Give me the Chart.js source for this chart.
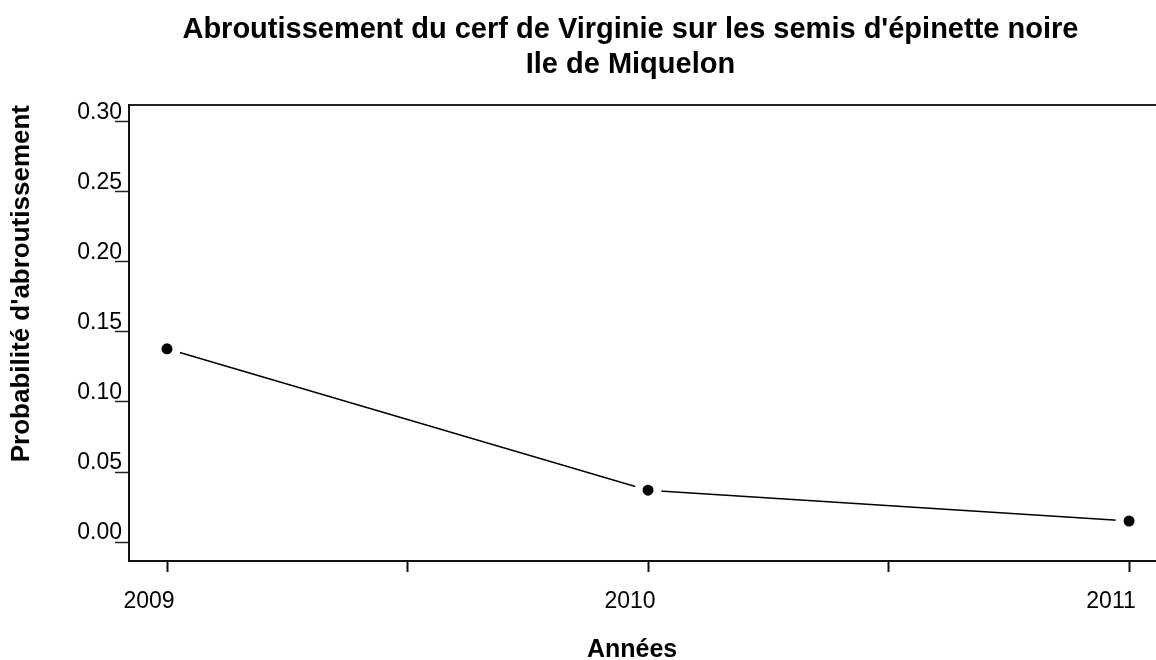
<!DOCTYPE html>
<html>
<head>
<meta charset="utf-8">
<script src="https://cdn.jsdelivr.net/npm/chart.js@4.4.1/dist/chart.umd.min.js"></script>
<style>
  html, body { margin:0; padding:0; background:#fff; }
  #wrap { width:1156px; height:660px; }
</style>
</head>
<body>
<div id="wrap"><canvas id="abrChart" width="1156" height="660"></canvas></div>
<script>

/* DONNEES */

const annees = [2009, 2010, 2011];
const probabilite = [0.138, 0.037, 0.015];

const xTicks = [2009, 2009.5, 2010, 2010.5, 2011];
const yTicks = [0, 0.05, 0.10, 0.15, 0.20, 0.25, 0.30];

const font = "'Liberation Sans', Arial, sans-serif";

/* GRAPHIQUE */

const abrChart = new Chart(
document.getElementById('abrChart'),{

    type:'line',

    data:{
        datasets:[{
            label:'Probabilité',
            data:annees.map((a,i)=>({x:a, y:probabilite[i]})),
            borderColor:'#000',
            borderWidth:1.5,
            pointRadius:9.5,
            pointBackgroundColor:'#000',
            pointBorderColor:'#fff',
            pointBorderWidth:8,
            tension:0
        }]
    },

    options:{
        responsive:false,
        animation:false,
        layout:{ padding:0, autoPadding:false },
        plugins:{
            legend:{ display:false },
            tooltip:{ enabled:false },
            title:{
                display:true,
                fullSize:false,
                // espaces finaux : decale le centrage vers la gauche
                text:["Abroutissement du cerf de Virginie sur les semis d'épinette noire   ","Ile de Miquelon   "],
                color:'#000',
                font:{ family:font, size:29, weight:'bold', lineHeight:'35px' },
                padding:{ top:12.5, bottom:22.5 }
            }
        },
        scales:{
            x:{
                type:'linear',
                position:'bottom',
                min:2008.921,
                max:2011.056,
                afterBuildTicks:(s)=>{ s.ticks = xTicks.map(v=>({value:v})); },
                afterFit:(s)=>{ s.height = 99; },
                border:{ display:true, color:'#111', width:2 },
                grid:{ drawOnChartArea:false, drawTicks:true, tickLength:11, tickWidth:2, tickColor:'#111' },
                ticks:{
                    color:'#000',
                    padding:0,
                    labelOffset:-18,
                    maxRotation:0,
                    font:{ family:font, size:23, lineHeight:'60px' },
                    callback:(v)=> Number.isInteger(v) ? String(v) : ''
                },
                title:{
                    display:true,
                    text:'Années   ',
                    color:'#000',
                    font:{ family:font, size:25, weight:'bold', lineHeight:'20px' },
                    padding:0
                }
            },
            x2:{
                type:'linear',
                position:'top',
                min:0, max:1,
                afterFit:(s)=>{ s.height = 0; },
                border:{ display:true, color:'#222', width:2 },
                grid:{ drawOnChartArea:false, drawTicks:false },
                ticks:{ display:false }
            },
            y:{
                type:'linear',
                position:'left',
                min:-0.01357,
                max:0.31214,
                afterBuildTicks:(s)=>{ s.ticks = yTicks.map(v=>({value:v})); },
                afterFit:(s)=>{ s.width = 129; },
                border:{ display:true, color:'#111', width:2 },
                grid:{ drawOnChartArea:false, drawTicks:true, tickLength:14, tickWidth:1.5, tickColor:'#222' },
                ticks:{
                    color:'#000',
                    padding:-7,
                    labelOffset:-9.5,
                    font:{ family:font, size:23 },
                    callback:(v)=> v.toFixed(2)
                },
                title:{
                    display:true,
                    text:"Probabilité d'abroutissement",
                    align:'end',
                    color:'#000',
                    font:{ family:font, size:26, weight:'bold', lineHeight:'26px' },
                    padding:{ top:9, bottom:0 }
                }
            }
        }
    }

});

</script>
</body>
</html>
